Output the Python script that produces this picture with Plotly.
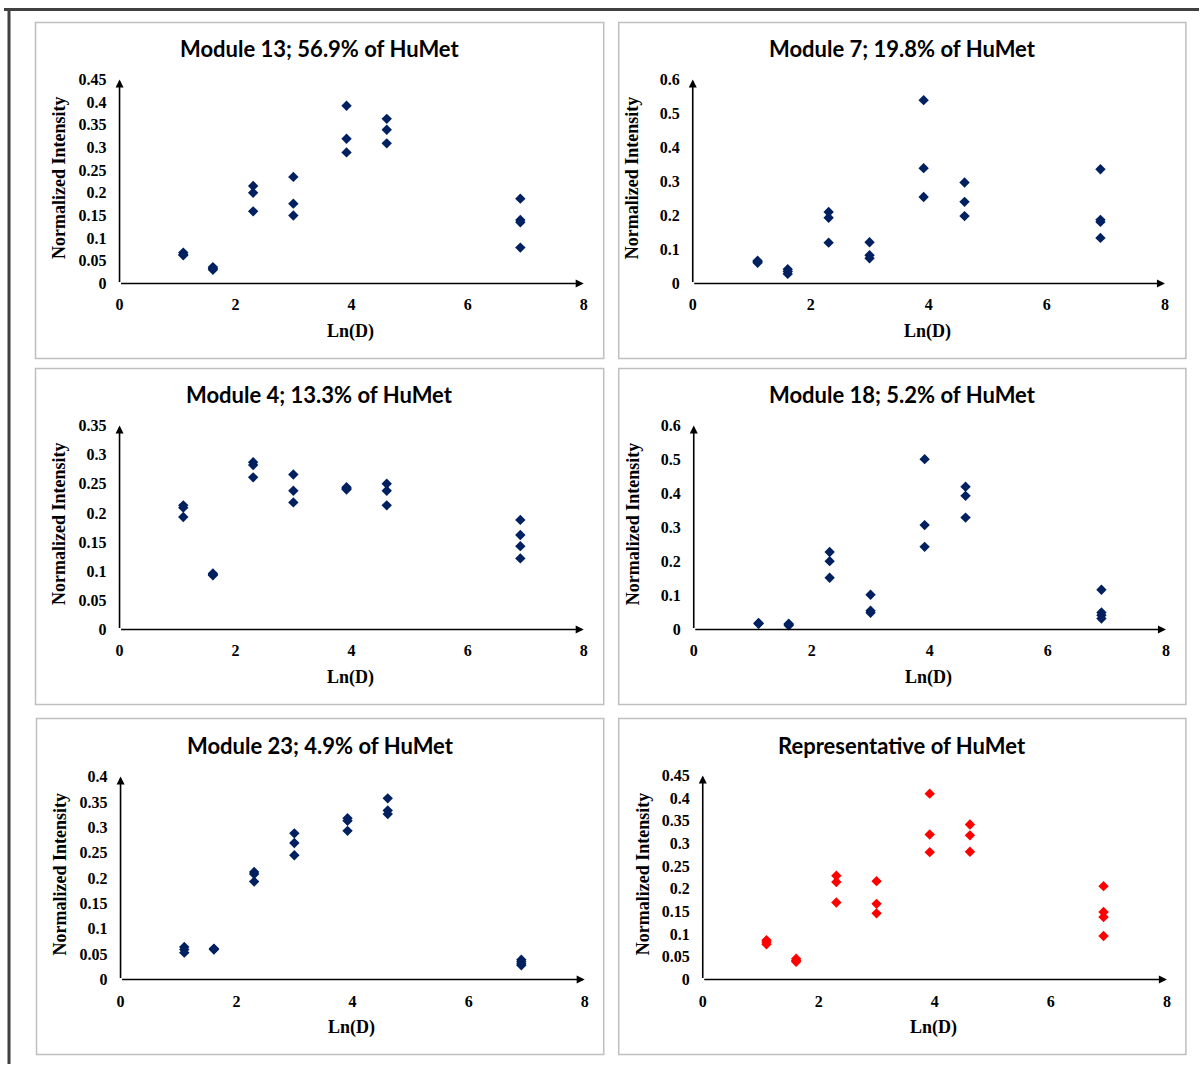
import plotly.graph_objects as go

W, H = 1203, 1073

# ---- data -------------------------------------------------------------
LN_D = [1.0986, 1.6094, 2.3026, 2.9957, 3.9120, 4.6052, 6.9078]

MODULE_13 = [[0.068, 0.064, 0.062], [0.036, 0.033, 0.030], [0.215, 0.200, 0.159],
             [0.235, 0.176, 0.150], [0.392, 0.319, 0.289], [0.363, 0.339, 0.309],
             [0.187, 0.140, 0.135, 0.079]]
MODULE_7 = [[0.067, 0.064, 0.061], [0.042, 0.035, 0.028], [0.210, 0.193, 0.120],
            [0.121, 0.083, 0.074], [0.539, 0.339, 0.254], [0.297, 0.240, 0.198],
            [0.336, 0.187, 0.181, 0.134]]
MODULE_4 = [[0.213, 0.209, 0.193], [0.096, 0.094, 0.093], [0.287, 0.282, 0.261],
            [0.266, 0.238, 0.218], [0.244, 0.242, 0.240], [0.250, 0.238, 0.213],
            [0.188, 0.162, 0.143, 0.122]]
MODULE_18 = [[0.019, 0.018, 0.017], [0.017, 0.014, 0.012], [0.228, 0.201, 0.152],
             [0.102, 0.055, 0.049], [0.501, 0.307, 0.243], [0.420, 0.393, 0.329],
             [0.117, 0.050, 0.042, 0.032]]
MODULE_23 = [[0.064, 0.059, 0.053], [0.061, 0.060, 0.059], [0.212, 0.208, 0.193],
             [0.288, 0.269, 0.245], [0.318, 0.313, 0.293], [0.357, 0.333, 0.326],
             [0.039, 0.035, 0.031, 0.028]]
REPRESENTATIVE = [[0.087, 0.083, 0.078], [0.046, 0.042, 0.039], [0.229, 0.215, 0.170],
                  [0.217, 0.167, 0.146], [0.410, 0.320, 0.281], [0.342, 0.318, 0.282],
                  [0.206, 0.149, 0.138, 0.096]]

TITLES = ["Module 13; 56.9% of HuMet", "Module 7; 19.8% of HuMet",
          "Module 4; 13.3% of HuMet", "Module 18; 5.2% of HuMet",
          "Module 23; 4.9% of HuMet", "Representative of HuMet"]
SERIES = [MODULE_13, MODULE_7, MODULE_4, MODULE_18, MODULE_23, REPRESENTATIVE]

X_TICK_VALS = [0, 2, 4, 6, 8]
X_TICK_TEXT = ["0", "2", "4", "6", "8"]
Y_TICKS_045 = ["0", "0.05", "0.1", "0.15", "0.2", "0.25", "0.3", "0.35", "0.4", "0.45"]
Y_TICKS_040 = ["0", "0.05", "0.1", "0.15", "0.2", "0.25", "0.3", "0.35", "0.4"]
Y_TICKS_035 = ["0", "0.05", "0.1", "0.15", "0.2", "0.25", "0.3", "0.35"]
Y_TICKS_06 = ["0", "0.1", "0.2", "0.3", "0.4", "0.5", "0.6"]
Y_TICKS = [Y_TICKS_045, Y_TICKS_06, Y_TICKS_035, Y_TICKS_06, Y_TICKS_040, Y_TICKS_045]

X_TITLE = "Ln(D)"
Y_TITLE = "Normalized Intensity"

# ---- layout geometry (target pixels in the photographed page) -------------
# (x at 0, x at 8, y at 0, y at top)
AXES_PX = [(119, 583, 283, 79), (692, 1164, 283, 79),
           (119, 583, 629, 425), (693, 1165, 629, 425),
           (120, 584, 979, 776), (702, 1166, 979, 775)]
BOXES_PX = [(35, 22, 603, 358), (618, 22, 1185, 358),
            (35, 368, 603, 704), (618, 368, 1185, 704),
            (36, 718, 603, 1054), (618, 718, 1185, 1054)]
TITLE_Y = [48, 48, 394, 394, 745, 745]
COLORS = ["#002060"] * 5 + ["#ff0000"]

# the page is photographed with a small offset and shrink; compensate for it
SX, OX = 0.993, 3.5
SY, OY = 0.984, 7.6


def px(x):
    return min(max((x - OX) / SX / W, 0), 1)


def py(y):
    return min(max(1 - (y - OY) / SY / H, 0), 1)


SERIF = dict(family="Liberation Serif", color="black", weight="bold")

fig = go.Figure()
annotations = []
shapes = []

for i in range(6):
    n = i + 1
    xa = "xaxis" if n == 1 else f"xaxis{n}"
    ya = "yaxis" if n == 1 else f"yaxis{n}"
    xr = "x" if n == 1 else f"x{n}"
    yr = "y" if n == 1 else f"y{n}"
    x0, x8, y0, yt = AXES_PX[i]
    labels = Y_TICKS[i]
    yvals = [float(t) for t in labels]
    ymax = yvals[-1]

    xs, ys = [], []
    for xv, grp in zip(LN_D, SERIES[i]):
        for v in grp:
            xs.append(xv)
            ys.append(v)
    fig.add_trace(go.Scatter(
        x=xs, y=ys, mode="markers", xaxis=xr, yaxis=yr, cliponaxis=False,
        marker=dict(symbol="diamond", size=8, color=COLORS[i], line=dict(width=0)),
        showlegend=False, hoverinfo="x+y"))

    fig.layout[xa] = dict(
        domain=[px(x0), px(x8)], range=[0, 8], anchor=yr,
        tickvals=X_TICK_VALS, ticktext=X_TICK_TEXT, showgrid=False, zeroline=False,
        showline=False, ticks="", ticklabelstandoff=10,
        tickfont=dict(size=16, **SERIF))
    fig.layout[ya] = dict(
        domain=[py(y0), py(yt)], range=[0, ymax], anchor=xr,
        tickvals=yvals, ticktext=labels, showgrid=False, zeroline=False,
        showline=False, ticks="", ticklabelstandoff=12,
        tickfont=dict(size=16, **SERIF))

    # axis arrows
    annotations.append(dict(x=8, y=0, ax=0, ay=0, xref=xr, yref=yr, axref=xr, ayref=yr,
                            text="", showarrow=True, arrowhead=2, arrowsize=1,
                            arrowwidth=1.6, arrowcolor="black", standoff=0))
    annotations.append(dict(x=0, y=ymax, ax=0, ay=0, xref=xr, yref=yr, axref=xr, ayref=yr,
                            text="", showarrow=True, arrowhead=2, arrowsize=1,
                            arrowwidth=1.6, arrowcolor="black", standoff=0))

    bx0, by0, bx1, by1 = BOXES_PX[i]
    shapes.append(dict(type="rect", xref="paper", yref="paper",
                       x0=px(bx0), x1=px(bx1), y0=py(by1), y1=py(by0),
                       line=dict(color="#bfbfbf", width=1.5)))

    # panel title
    annotations.append(dict(x=px((bx0 + bx1) / 2), y=py(TITLE_Y[i]), xref="paper", yref="paper",
                            text=TITLES[i], showarrow=False, xanchor="center", yanchor="middle",
                            font=dict(family="Lato", size=22, color="black", weight="bold")))
    # x-axis title
    annotations.append(dict(x=px((x0 + x8) / 2 - 1), y=py(y0 + 48), xref="paper", yref="paper",
                            text=X_TITLE, showarrow=False, xanchor="center", yanchor="middle",
                            font=dict(size=18, **SERIF)))
    # y-axis title
    annotations.append(dict(x=px(x0 - 60), y=py((y0 + yt) / 2 - 3), xref="paper", yref="paper",
                            text=Y_TITLE, showarrow=False, textangle=-90,
                            xanchor="center", yanchor="middle",
                            font=dict(size=18, **SERIF)))

# outer dark frame (top and left edges)
shapes.append(dict(type="line", xref="paper", yref="paper", x0=0, x1=1,
                   y0=1 - 1.5 / H, y1=1 - 1.5 / H,
                   line=dict(color="#404040", width=3)))
shapes.append(dict(type="line", xref="paper", yref="paper", x0=px(8.5), x1=px(8.5), y0=0, y1=1,
                   line=dict(color="#404040", width=3)))

fig.update_layout(width=W, height=H, margin=dict(l=0, r=0, t=0, b=0),
                  paper_bgcolor="white", plot_bgcolor="white",
                  annotations=annotations, shapes=shapes)

fig.write_html("out.html")
